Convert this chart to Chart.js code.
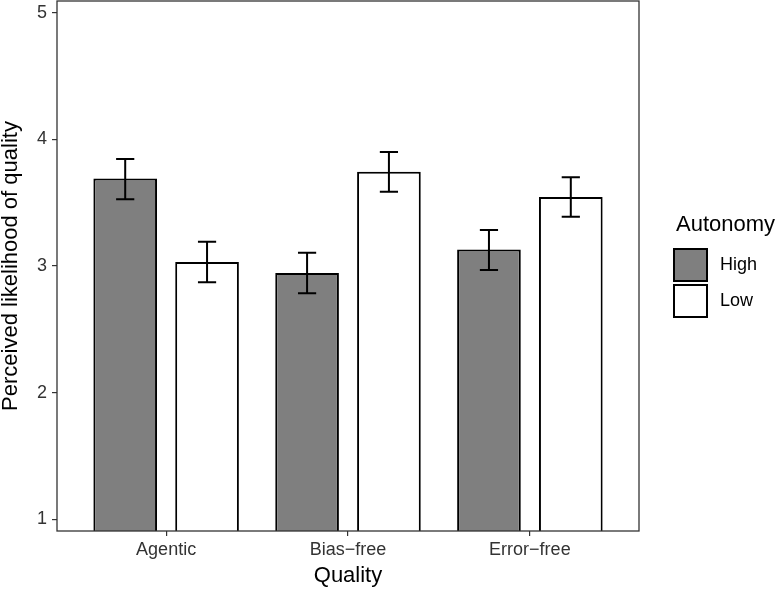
<!DOCTYPE html>
<html>
<head>
<meta charset="utf-8">
<script src="https://cdn.jsdelivr.net/npm/chart.js@4.4.1/dist/chart.umd.min.js"></script>
<style>
  html, body { margin: 0; padding: 0; background: #fff; }
</style>
</head>
<body>
<canvas id="chart" width="775" height="591"></canvas>
<script>
// values
var qualities = ['Agentic', 'Bias\u2212free', 'Error\u2212free'];
var autonomyLevels = ['High', 'Low'];
var highMeans = [3.69, 2.945, 3.13];
var highLower = [3.527, 2.784, 2.968];
var highUpper = [3.845, 3.105, 3.284];
var lowMeans = [3.032, 3.745, 3.545];
var lowLower = [2.871, 3.587, 3.389];
var lowUpper = [3.192, 3.900, 3.700];
var yTicks = [1, 2, 3, 4, 5];

Chart.defaults.font.family = "'Liberation Sans', Arial, sans-serif";

function toPoints(values) {
    return values.map(function(v, i) { return { x: i + 1, y: v }; });
}

var errorBarPlugin = {
    id: 'errorBars',
    afterDatasetsDraw: function(chart) {
        var ctx = chart.ctx;
        var xs = chart.scales.x, ys = chart.scales.y;
        var half = xs.getPixelForValue(1.05) - xs.getPixelForValue(1);
        ctx.save();
        ctx.strokeStyle = '#000';
        ctx.lineWidth = 2;
        chart.data.datasets.forEach(function(ds, di) {
            chart.getDatasetMeta(di).data.forEach(function(bar, i) {
                var top = ys.getPixelForValue(ds.upper[i]);
                var bot = ys.getPixelForValue(ds.lower[i]);
                ctx.beginPath();
                ctx.moveTo(bar.x, top); ctx.lineTo(bar.x, bot);
                ctx.moveTo(bar.x - half, top); ctx.lineTo(bar.x + half, top);
                ctx.moveTo(bar.x - half, bot); ctx.lineTo(bar.x + half, bot);
                ctx.stroke();
            });
        });
        // panel border
        var a = chart.chartArea;
        ctx.strokeStyle = '#333';
        ctx.lineWidth = 1.3;
        ctx.strokeRect(a.left, a.top, a.right - a.left, a.bottom - a.top);
        ctx.restore();
    }
};

var legendPlugin = {
    id: 'sideLegend',
    afterDraw: function(chart) {
        var ctx = chart.ctx;
        var a = chart.chartArea;
        var cy = (a.top + a.bottom) / 2;
        var x0 = a.right + 34;
        ctx.save();
        ctx.fillStyle = '#000';
        ctx.font = "22px 'Liberation Sans', Arial, sans-serif";
        ctx.textAlign = 'left';
        ctx.textBaseline = 'alphabetic';
        ctx.fillText('Autonomy', x0 + 3, cy - 35);
        chart.data.datasets.forEach(function(ds, i) {
            var top = cy - 18 + i * 36;
            ctx.fillStyle = ds.backgroundColor;
            ctx.fillRect(x0, top, 35, 34);
            ctx.strokeStyle = '#000';
            ctx.lineWidth = 2;
            ctx.strokeRect(x0 + 1, top + 1, 33, 32);
            ctx.fillStyle = '#000';
            ctx.font = "18px 'Liberation Sans', Arial, sans-serif";
            ctx.textBaseline = 'middle';
            ctx.fillText(ds.label, x0 + 47, top + 17);
        });
        ctx.restore();
    }
};

new Chart(document.getElementById('chart'), {
    type: 'bar',
    data: {
        datasets: [{
            label: autonomyLevels[0],
            data: toPoints(highMeans),
            lower: highLower,
            upper: highUpper,
            backgroundColor: '#7f7f7f',
            borderColor: '#000',
            borderWidth: 2
        }, {
            label: autonomyLevels[1],
            data: toPoints(lowMeans),
            lower: lowLower,
            upper: lowUpper,
            backgroundColor: '#ffffff',
            borderColor: '#000',
            borderWidth: 2
        }]
    },
    options: {
        responsive: false,
        animation: false,
        categoryPercentage: 0.9,
        barPercentage: 0.778,
        layout: { padding: { left: 0, top: 1, right: 136, bottom: 0 } },
        plugins: {
            legend: { display: false },
            tooltip: { enabled: false }
        },
        scales: {
            x: {
                type: 'linear',
                min: 0.4,
                max: 3.6,
                offset: false,
                afterBuildTicks: function(scale) {
                    scale.ticks = qualities.map(function(q, i) { return { value: i + 1 }; });
                },
                afterFit: function(scale) {
                    scale.height = 60;
                    scale.paddingLeft = 0;
                    scale.paddingRight = 0;
                },
                grid: { offset: false, drawOnChartArea: false, drawTicks: true, tickLength: 5, color: '#333', lineWidth: 1.2 },
                border: { display: false },
                ticks: {
                    padding: 3,
                    maxRotation: 0,
                    autoSkip: false,
                    color: '#333',
                    font: { size: 18 },
                    callback: function(value) { return qualities[value - 1]; }
                },
                title: {
                    display: true,
                    text: 'Quality',
                    color: '#000',
                    font: { size: 22, lineHeight: 1 },
                    padding: { top: 0, bottom: 4 }
                }
            },
            y: {
                min: 0.908,
                max: 5.092,
                afterBuildTicks: function(scale) {
                    scale.ticks = yTicks.map(function(v) { return { value: v }; });
                },
                afterFit: function(scale) {
                    scale.width = 57;
                    scale.paddingTop = 0;
                    scale.paddingBottom = 0;
                },
                grid: { drawOnChartArea: false, drawTicks: true, tickLength: 5, color: '#333', lineWidth: 1.2 },
                border: { display: false },
                ticks: {
                    padding: 5,
                    color: '#333',
                    font: { size: 18 }
                },
                title: {
                    display: true,
                    text: 'Perceived likelihood of quality',
                    color: '#000',
                    font: { size: 22, lineHeight: 1 },
                    padding: 0
                }
            }
        }
    },
    plugins: [errorBarPlugin, legendPlugin]
});
</script>
</body>
</html>
